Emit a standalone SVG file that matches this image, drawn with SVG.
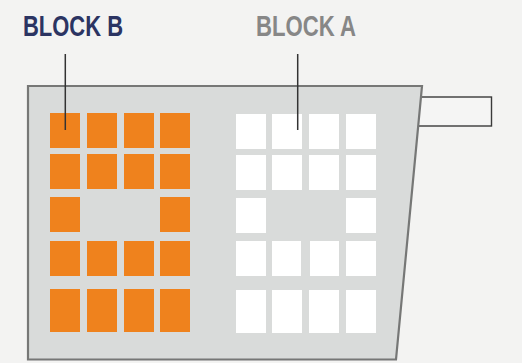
<svg xmlns="http://www.w3.org/2000/svg" width="522" height="363" viewBox="0 0 522 363">
<style>
.lbl{font-family:"Liberation Sans Narrow","Liberation Sans",Arial,sans-serif;font-weight:bold;font-size:29px}
.o{fill:#ef821d}
.w{fill:#ffffff}
.ln{stroke:#333;stroke-width:1.5;fill:none}
</style>
<rect width="522" height="363" fill="#f3f3f2"/>
<g id="handle"><rect x="410" y="97" width="81.5" height="29" fill="#f5f5f4" stroke="#3a3a3a" stroke-width="1.4"/></g>
<g id="container"><polygon points="28,86 422,86 396,359.5 28,359.5" fill="#d9dbda" stroke="#767776" stroke-width="2.2"/></g>
<g id="blockB">
<rect class="o" x="50" y="113" width="30" height="35"/><rect class="o" x="87" y="113" width="30" height="35"/><rect class="o" x="124" y="113" width="30" height="35"/><rect class="o" x="160" y="113" width="30" height="35"/>
<rect class="o" x="50" y="154" width="30" height="35"/><rect class="o" x="87" y="154" width="30" height="35"/><rect class="o" x="124" y="154" width="30" height="35"/><rect class="o" x="160" y="154" width="30" height="35"/>
<rect class="o" x="50" y="197" width="30" height="35"/><rect class="o" x="160" y="197" width="30" height="35"/>
<rect class="o" x="50" y="241" width="30" height="35"/><rect class="o" x="87" y="241" width="30" height="35"/><rect class="o" x="124" y="241" width="30" height="35"/><rect class="o" x="160" y="241" width="30" height="35"/>
<rect class="o" x="50" y="289" width="30" height="43"/><rect class="o" x="87" y="289" width="30" height="43"/><rect class="o" x="124" y="289" width="30" height="43"/><rect class="o" x="160" y="289" width="30" height="43"/>
</g>
<g id="blockA">
<rect class="w" x="236" y="114" width="30" height="35"/><rect class="w" x="272" y="114" width="30" height="35"/><rect class="w" x="309" y="114" width="30" height="35"/><rect class="w" x="346" y="114" width="30" height="35"/>
<rect class="w" x="236" y="155" width="30" height="35"/><rect class="w" x="272" y="155" width="30" height="35"/><rect class="w" x="309" y="155" width="30" height="35"/><rect class="w" x="346" y="155" width="30" height="35"/>
<rect class="w" x="236" y="198" width="30" height="35"/><rect class="w" x="346" y="198" width="30" height="35"/>
<rect class="w" x="236" y="241" width="30" height="35"/><rect class="w" x="272" y="241" width="29" height="35"/><rect class="w" x="310" y="241" width="29" height="35"/><rect class="w" x="346" y="241" width="30" height="35"/>
<rect class="w" x="236" y="290" width="30" height="43"/><rect class="w" x="272" y="290" width="30" height="43"/><rect class="w" x="309" y="290" width="30" height="43"/><rect class="w" x="346" y="290" width="30" height="43"/>
</g>
<g id="connectors">
<line class="ln" x1="65.3" y1="54" x2="65.3" y2="130"/>
<line class="ln" x1="297.7" y1="54" x2="297.7" y2="130"/>
</g>
<g id="label-b"><text class="lbl" x="23" y="36" fill="#2b3462" textLength="100" lengthAdjust="spacingAndGlyphs">BLOCK B</text></g>
<g id="label-a"><text class="lbl" x="256" y="36" fill="#878787" textLength="100" lengthAdjust="spacingAndGlyphs">BLOCK A</text></g>
</svg>
